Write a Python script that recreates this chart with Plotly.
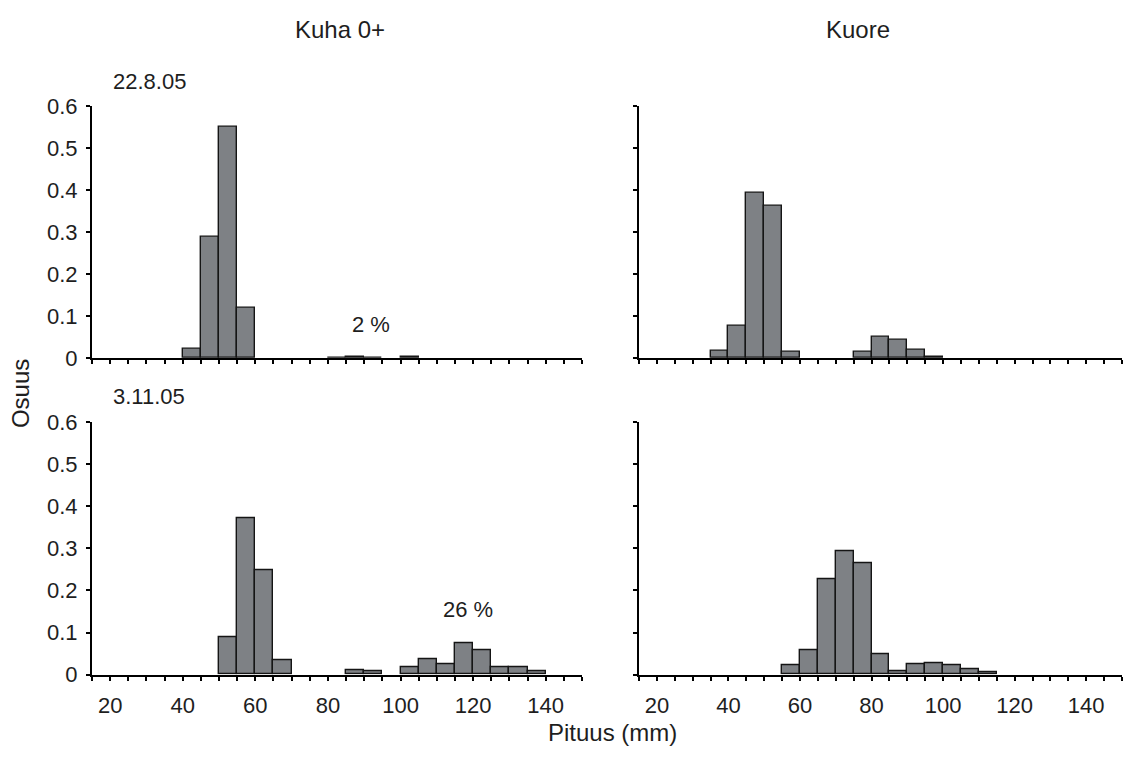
import plotly.graph_objects as go

# Length bins (lower edge, mm), bin width 5 mm
bin_lower = [15, 20, 25, 30, 35, 40, 45, 50, 55, 60, 65, 70, 75, 80, 85, 90,
             95, 100, 105, 110, 115, 120, 125, 130, 135, 140, 145]
bin_width = 5

# Proportions (Osuus) per bin
kuha_aug = [0, 0, 0, 0, 0, 0.023, 0.288, 0.55, 0.12, 0, 0, 0, 0, 0.002, 0.004, 0.002,
            0, 0.003, 0, 0, 0, 0, 0, 0, 0, 0, 0]
kuore_aug = [0, 0, 0, 0, 0.017, 0.077, 0.393, 0.363, 0.015, 0, 0, 0, 0.015, 0.05, 0.043, 0.021,
             0.003, 0, 0, 0, 0, 0, 0, 0, 0, 0, 0]
kuha_nov = [0, 0, 0, 0, 0, 0, 0, 0.09, 0.372, 0.248, 0.034, 0, 0, 0, 0.01, 0.008,
            0, 0.018, 0.036, 0.026, 0.074, 0.058, 0.018, 0.018, 0.008, 0, 0]
kuore_nov = [0, 0, 0, 0, 0, 0, 0, 0, 0.022, 0.058, 0.228, 0.294, 0.265, 0.049, 0.008, 0.024,
             0.028, 0.022, 0.014, 0.005, 0, 0, 0, 0, 0, 0, 0]

col_titles = ["Kuha 0+", "Kuore"]
row_titles = ["22.8.05", "3.11.05"]
share_labels = [("2 %", 92, 0.08), ("26 %", 118.6, 0.154)]

x_tick_vals = list(range(15, 151, 5))
x_tick_text = [str(v) if v in (20, 40, 60, 80, 100, 120, 140) else "" for v in x_tick_vals]
y_tick_vals = [0, 0.1, 0.2, 0.3, 0.4, 0.5, 0.6]
y_tick_text = ["0", "0.1", "0.2", "0.3", "0.4", "0.5", "0.6"]

W, H = 1131, 765
FONT = "Liberation Sans, Arial, sans-serif"
FS = 22
FS_TITLE = 24
TXT = "#1e1e1e"
BAR_COLOR = "#7e8185"

centers = [b + bin_width / 2 for b in bin_lower]

panels = [
    (kuha_aug, "x", "y", (92, 582), (97, 358), False, True),
    (kuore_aug, "x2", "y2", (639, 1122), (97, 358), False, False),
    (kuha_nov, "x3", "y3", (92, 582), (424, 685), True, True),
    (kuore_nov, "x4", "y4", (639, 1122), (424, 685), True, False),
]

fig = go.Figure()
layout = {}
for i, (vals, xa, ya, xpx, ypx, xlab, ylab) in enumerate(panels):
    shown = [v if v > 0 else None for v in vals]
    fig.add_trace(go.Bar(
        x=centers, y=shown, width=[bin_width] * len(centers),
        marker=dict(color=BAR_COLOR, line=dict(color="#151515", width=1.4)),
        xaxis=xa, yaxis=ya, showlegend=False, hoverinfo="x+y",
    ))
    xkey = "xaxis" if xa == "x" else "xaxis" + xa[1:]
    ykey = "yaxis" if ya == "y" else "yaxis" + ya[1:]
    layout[xkey] = dict(
        domain=[xpx[0] / W, xpx[1] / W], range=[15, 150], anchor=ya,
        showline=True, linecolor="black", linewidth=2.2,
        ticks="outside", ticklen=4, tickwidth=2, tickcolor="black",
        tickmode="array", tickvals=x_tick_vals, ticktext=x_tick_text,
        showticklabels=xlab, showgrid=False, zeroline=False,
        ticklabelstandoff=6,
        tickfont=dict(family=FONT, size=FS, color=TXT),
    )
    layout[ykey] = dict(
        domain=[1 - ypx[1] / H, 1 - ypx[0] / H], range=[0, 0.6], anchor=xa,
        showline=True, linecolor="black", linewidth=2.2,
        ticks="outside", ticklen=4, tickwidth=2, tickcolor="black",
        tickmode="array", tickvals=y_tick_vals, ticktext=y_tick_text,
        showticklabels=ylab, showgrid=False, zeroline=False,
        ticklabelstandoff=4,
        tickfont=dict(family=FONT, size=FS, color=TXT),
    )

annotations = []
for title, cx in zip(col_titles, [340, 858]):
    annotations.append(dict(text=title, x=cx / W, y=1 - 18 / H, xref="paper", yref="paper",
                            showarrow=False, xanchor="center", yanchor="middle",
                            font=dict(size=FS_TITLE)))
for title, cy in zip(row_titles, [72, 398]):
    annotations.append(dict(text=title, x=111 / W, y=1 - cy / H, xref="paper", yref="paper",
                            showarrow=False, xanchor="left", yanchor="middle"))
annotations.append(dict(text="Osuus", x=20 / W, y=1 - 395 / H, xref="paper", yref="paper",
                        showarrow=False, textangle=-90, xanchor="center", yanchor="middle",
                        font=dict(size=FS_TITLE)))
annotations.append(dict(text="Pituus (mm)", x=612 / W, y=1 - 745 / H, xref="paper", yref="paper",
                        showarrow=False, xanchor="center", yanchor="middle",
                        font=dict(size=FS_TITLE)))
for (txt, xv, yv), (xr, yr) in zip(share_labels, [("x", "y"), ("x3", "y3")]):
    annotations.append(dict(text=txt, x=xv, y=yv, xref=xr, yref=yr, showarrow=False,
                            xanchor="center", yanchor="middle"))

fig.update_layout(
    width=W, height=H, margin=dict(l=0, r=0, t=0, b=0),
    paper_bgcolor="white", plot_bgcolor="white",
    font=dict(family=FONT, size=FS, color=TXT),
    bargap=0, annotations=annotations, **layout,
)

fig.write_html("out.html")
